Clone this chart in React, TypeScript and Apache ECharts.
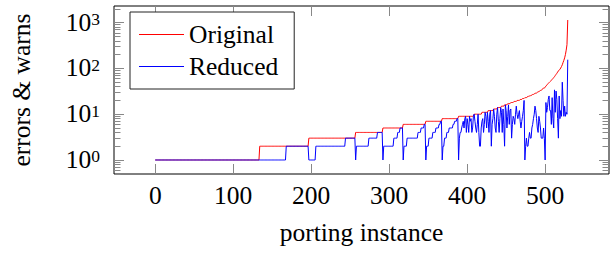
import React, { useEffect, useRef } from "react";
import * as echarts from "echarts";

// Original (sorted) error/warning counts, as runs: level repeated `count` times
const originalLevels = [
  1, 2, 3, 4, 5, 6, 7, 8, 9, 10, 11, 12, 13, 14, 15, 16, 17, 18, 19, 20, 21, 22, 23, 24, 25,
  26, 27, 28, 29, 30, 31, 32, 33, 35, 36, 37, 39, 41, 43, 45, 47, 49, 51, 53, 55, 57, 60, 63,
  66, 70, 74, 78, 83, 88, 92, 96, 102, 110, 120, 135, 150, 170, 200, 250, 330, 1140,
];
const originalCounts = [
  134, 63, 60, 35, 26, 29, 21, 21, 20, 10, 8, 7, 5, 5, 4, 4, 4, 4, 4, 4, 3, 3, 3, 2, 3,
  2, 2, 2, 2, 1, 2, 1, 2, 1, 1, 2, 1, 1, 1, 1, 1, 1, 1, 1, 1, 1, 1, 1,
  1, 1, 1, 1, 1, 1, 1, 1, 1, 1, 1, 1, 1, 1, 1, 1, 1, 1,
];

// Reduced counts for instances 0..388, as runs
const reducedLevels = [
  1, 2,
  1, 2, 3,
  1, 2, 3, 4,
  1, 2, 3, 4, 5,
  1, 2, 3, 4, 5, 6,
  1, 2, 3, 4, 5, 6, 7,
  1, 2, 3, 4, 5, 6, 7, 8,
];
const reducedCounts = [
  168, 29,
  9, 38, 13,
  1, 16, 11, 7,
  1, 13, 5, 3, 4,
  1, 4, 14, 4, 4, 2,
  1, 3, 5, 4, 4, 2, 2,
  1, 2, 3, 3, 5, 2, 3, 2,
];
// Reduced counts for instances 389..529
const reducedTail = [
  1,
  3, 4, 4, 5, 6, 7, 5, 8, 9, 4, 8, 6, 4, 9, 7, 8, 4, 5, 9,
  10, 7, 5, 4, 6, 10, 4, 2, 2, 5,
  7, 8, 4, 6, 11, 9, 5, 11,
  7, 4, 10, 12, 2, 6, 8,
  13, 9, 5, 4, 10,
  14, 7, 4, 8, 14,
  11, 4, 13, 6,
  2, 16, 12, 5,
  9, 16, 6, 12,
  13, 3, 6, 9,
  8, 6, 10, 15,
  10, 8, 10, 12,
  7, 5, 7,
  9, 12, 20,
  1, 2, 3,
  2, 2,
  3, 4, 3,
  3, 5,
  6, 8,
  10, 15,
  12, 8,
  5, 4, 9, 7, 5, 3, 3, 3, 5, 3,
  1, 18, 11, 14, 21, 25, 12, 12, 6, 23,
  8, 5, 34, 11, 32, 21, 8, 3, 25, 8,
  12, 9, 50, 20, 9, 15, 9, 11, 10, 155,
];

const seriesNames = ["Original", "Reduced"];
const seriesColors = ["#ff0000", "#0000ff"];

const xTicks = [0, 100, 200, 300, 400, 500];
const yMajorTicks = [1, 10, 100, 1000];
const yMinorTicks = [
  0.5, 0.6, 0.7, 0.8, 0.9,
  2, 3, 4, 5, 6, 7, 8, 9,
  20, 30, 40, 50, 60, 70, 80, 90,
  200, 300, 400, 500, 600, 700, 800, 900,
  2000,
];

const FONT = "'Liberation Serif', 'DejaVu Serif', serif";
const FS = 25.5;

function expandRuns(levels: number[], counts: number[]): number[] {
  const out: number[] = [];
  levels.forEach((v, k) => {
    for (let j = 0; j < counts[k]; j++) out.push(v);
  });
  return out;
}

export default function App() {
  const ref = useRef<HTMLDivElement>(null);

  useEffect(() => {
    if (!ref.current) return;
    const chart = echarts.init(ref.current, undefined, { renderer: "svg" });

    const original = expandRuns(originalLevels, originalCounts);
    const reduced = expandRuns(reducedLevels, reducedCounts).concat(reducedTail);

    const xMin = -52.9;
    const xMax = 581.9;
    const yMin = 0.4945;
    const yMax = 2306;

    const tickColor = "#888";

    const xBase = {
      type: "value" as const,
      min: xMin,
      max: xMax,
      axisLine: { show: false, onZero: false },
      splitLine: { show: false },
    };
    const yBase = {
      type: "log" as const,
      logBase: 10,
      min: yMin,
      max: yMax,
      axisLine: { show: false, onZero: false },
      splitLine: { show: false },
      minorTick: { show: false },
      minorSplitLine: { show: false },
    };

    chart.setOption({
      animation: false,
      backgroundColor: "#fff",
      textStyle: { fontFamily: FONT },
      grid: {
        left: 114,
        right: 2,
        top: 6,
        bottom: 80,
        containLabel: false,
        outerBoundsMode: "none",
        show: true,
        borderColor: "#000",
        borderWidth: 1,
        backgroundColor: "transparent",
      },
      legend: {
        left: 130,
        top: 12,
        orient: "vertical",
        padding: [9, 16, 9, 9],
        itemWidth: 45,
        itemHeight: 1,
        itemGap: 5,
        icon: "rect",
        borderColor: "#222",
        borderWidth: 1,
        backgroundColor: "#fff",
        textStyle: { fontFamily: FONT, fontSize: FS, color: "#000", lineHeight: 27 },
        data: seriesNames.map((n, k) => ({
          name: n,
          icon: "rect",
          itemStyle: { color: seriesColors[k], borderWidth: 0 },
        })),
      },
      xAxis: [
        {
          ...xBase,
          position: "bottom",
          name: "porting instance",
          nameLocation: "middle",
          nameGap: 45,
          nameTextStyle: { fontFamily: FONT, fontSize: FS, color: "#000" },
          axisTick: { show: true, inside: true, length: 10, customValues: xTicks, lineStyle: { color: tickColor } },
          axisLabel: {
            show: true,
            customValues: xTicks,
            margin: 8,
            fontFamily: FONT,
            fontSize: FS,
            color: "#000",
          },
        },
        {
          ...xBase,
          position: "top",
          axisTick: { show: true, inside: true, length: 10, customValues: xTicks, lineStyle: { color: tickColor } },
          axisLabel: { show: false },
        },
      ],
      yAxis: [
        {
          ...yBase,
          position: "left",
          name: "errors & warns",
          nameLocation: "middle",
          nameGap: 80,
          nameRotate: 90,
          nameTextStyle: { fontFamily: FONT, fontSize: FS, color: "#000" },
          axisTick: { show: true, inside: true, length: 10, customValues: yMajorTicks, lineStyle: { color: tickColor } },
          axisLabel: {
            show: true,
            customValues: yMajorTicks,
            margin: 14,
            formatter: (v: number) => `{b|10}{s|${Math.round(Math.log10(v))}}`,
            rich: {
              b: { fontFamily: FONT, fontSize: FS, color: "#000", lineHeight: 25, verticalAlign: "bottom", padding: [7, 0, 0, 0] },
              s: { fontFamily: FONT, fontSize: 17.5, color: "#000", lineHeight: 17, verticalAlign: "top" },
            },
          },
        },
        {
          ...yBase,
          position: "left",
          axisTick: { show: true, inside: true, length: 6.5, customValues: yMinorTicks, lineStyle: { color: tickColor } },
          axisLabel: { show: false },
        },
        {
          ...yBase,
          position: "right",
          axisTick: { show: true, inside: true, length: 10, customValues: yMajorTicks, lineStyle: { color: tickColor } },
          axisLabel: { show: false },
        },
        {
          ...yBase,
          position: "right",
          axisTick: { show: true, inside: true, length: 6.5, customValues: yMinorTicks, lineStyle: { color: tickColor } },
          axisLabel: { show: false },
        },
      ],
      series: [
        {
          name: seriesNames[0],
          type: "line",
          xAxisIndex: 0,
          yAxisIndex: 0,
          data: original.map((v, i) => [i, v]),
          symbol: "none",
          showSymbol: false,
          lineStyle: { color: seriesColors[0], width: 1 },
          itemStyle: { color: seriesColors[0] },
          silent: true,
          z: 2,
        },
        {
          name: seriesNames[1],
          type: "line",
          xAxisIndex: 0,
          yAxisIndex: 0,
          data: reduced.map((v, i) => [i, v]),
          symbol: "none",
          showSymbol: false,
          lineStyle: { color: seriesColors[1], width: 1 },
          itemStyle: { color: seriesColors[1] },
          silent: true,
          z: 3,
        },
      ],
    });

    return () => chart.dispose();
  }, []);

  return (
    <div
      ref={ref}
      style={{ position: "fixed", left: 0, top: 0, width: 611, height: 254 }}
    />
  );
}
